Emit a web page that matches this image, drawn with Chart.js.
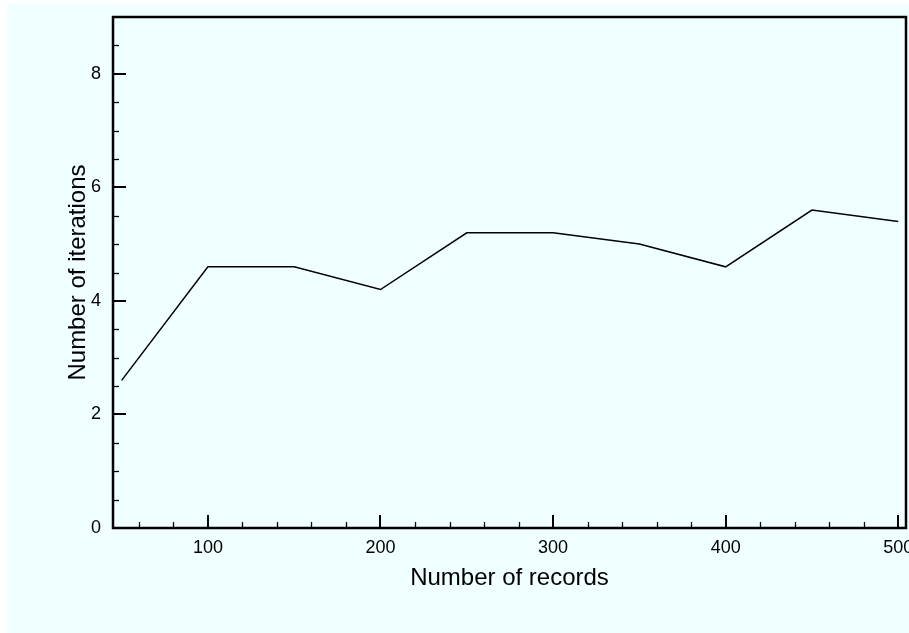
<!DOCTYPE html>
<html>
<head>
<meta charset="utf-8">
<script src="https://cdn.jsdelivr.net/npm/chart.js@4.4.1/dist/chart.umd.min.js"></script>
<style>
  html, body { margin: 0; padding: 0; background: #ffffff; }
  #wrap {
    position: absolute; left: 7px; top: 4px;
    width: 902px; height: 629px;
    background: #f0ffff;
  }
</style>
</head>
<body>
<div id="wrap"><canvas id="chart"></canvas></div>
<script>
// Datos
const records = [50, 100, 150, 200, 250, 300, 350, 400, 450, 500];
const iterations = [2.6, 4.6, 4.6, 4.2, 5.2, 5.2, 5.0, 4.6, 5.6, 5.4];
const xTickValues = [100, 200, 300, 400, 500];
const yTickValues = [0, 2, 4, 6, 8];

const xMin = 45, xMax = 504.5;
const yMin = 0, yMax = 9;

const FONT = '"Liberation Sans", Arial, Helvetica, sans-serif';

// Marco negro y marcas de graduación hacia dentro
const framePlugin = {
  id: 'frame',
  afterDraw(chart) {
    const { ctx, chartArea: a, scales } = chart;
    const x = scales.x, y = scales.y;
    ctx.save();
    ctx.strokeStyle = '#000';

    // marcas eje X: mayores cada 100, menores cada 20
    ctx.lineWidth = 2;
    for (const v of xTickValues) {
      const px = Math.round(x.getPixelForValue(v));
      ctx.beginPath(); ctx.moveTo(px, a.bottom); ctx.lineTo(px, a.bottom - 13); ctx.stroke();
    }
    ctx.lineWidth = 1.3;
    for (let v = 60; v < 500; v += 20) {
      if (v % 100 === 0) continue;
      const px = Math.round(x.getPixelForValue(v)) + 0.5;
      ctx.beginPath(); ctx.moveTo(px, a.bottom); ctx.lineTo(px, a.bottom - 6); ctx.stroke();
    }

    // marcas eje Y: mayores cada 2, menores cada 0.5
    ctx.lineWidth = 2;
    for (const v of yTickValues) {
      const py = Math.round(y.getPixelForValue(v));
      ctx.beginPath(); ctx.moveTo(a.left, py); ctx.lineTo(a.left + 13, py); ctx.stroke();
    }
    ctx.lineWidth = 1.3;
    for (let v = 0.5; v < 9; v += 0.5) {
      if (v % 2 === 0) continue;
      const py = Math.round(y.getPixelForValue(v)) + 0.5;
      ctx.beginPath(); ctx.moveTo(a.left, py); ctx.lineTo(a.left + 6, py); ctx.stroke();
    }

    // marco
    ctx.lineWidth = 2.5;
    ctx.strokeRect(a.left, a.top, a.right - a.left, a.bottom - a.top);
    ctx.restore();
  }
};

const data = records.map((r, i) => ({ x: r, y: iterations[i] }));

function noPad(scale) {
  scale.paddingTop = 0;
  scale.paddingBottom = 0;
  scale.paddingLeft = 0;
  scale.paddingRight = 0;
}

new Chart(document.getElementById('chart'), {
  type: 'line',
  data: {
    datasets: [{
      data: data,
      borderColor: '#000000',
      borderWidth: 1.5,
      pointRadius: 0,
      fill: false,
      tension: 0
    }]
  },
  options: {
    responsive: true,
    maintainAspectRatio: false,
    animation: false,
    layout: { padding: { top: 13, right: 3, left: 0, bottom: 0 } },
    plugins: {
      legend: { display: false },
      tooltip: { enabled: false }
    },
    scales: {
      x: {
        type: 'linear',
        min: xMin,
        max: xMax,
        afterBuildTicks(scale) {
          scale.ticks = xTickValues.map(v => ({ value: v }));
        },
        afterFit(scale) { scale.height = 105; noPad(scale); },
        grid: { display: false, drawTicks: false },
        border: { display: false },
        ticks: {
          color: '#000',
          font: { family: FONT, size: 18 },
          padding: 9,
          maxRotation: 0,
          autoSkip: false
        },
        title: {
          display: true,
          text: 'Number of records',
          color: '#000',
          font: { family: FONT, size: 24 },
          padding: { top: 0, bottom: 40 }
        }
      },
      y: {
        type: 'linear',
        min: yMin,
        max: yMax,
        afterBuildTicks(scale) {
          scale.ticks = yTickValues.map(v => ({ value: v }));
        },
        afterFit(scale) { scale.width = 106; noPad(scale); },
        grid: { display: false, drawTicks: false },
        border: { display: false },
        ticks: {
          color: '#000',
          font: { family: FONT, size: 18 },
          padding: 12
        },
        title: {
          display: true,
          text: 'Number of iterations',
          color: '#000',
          font: { family: FONT, size: 24 },
          padding: { top: 57, bottom: 0 }
        }
      }
    }
  },
  plugins: [framePlugin]
});
</script>
</body>
</html>
